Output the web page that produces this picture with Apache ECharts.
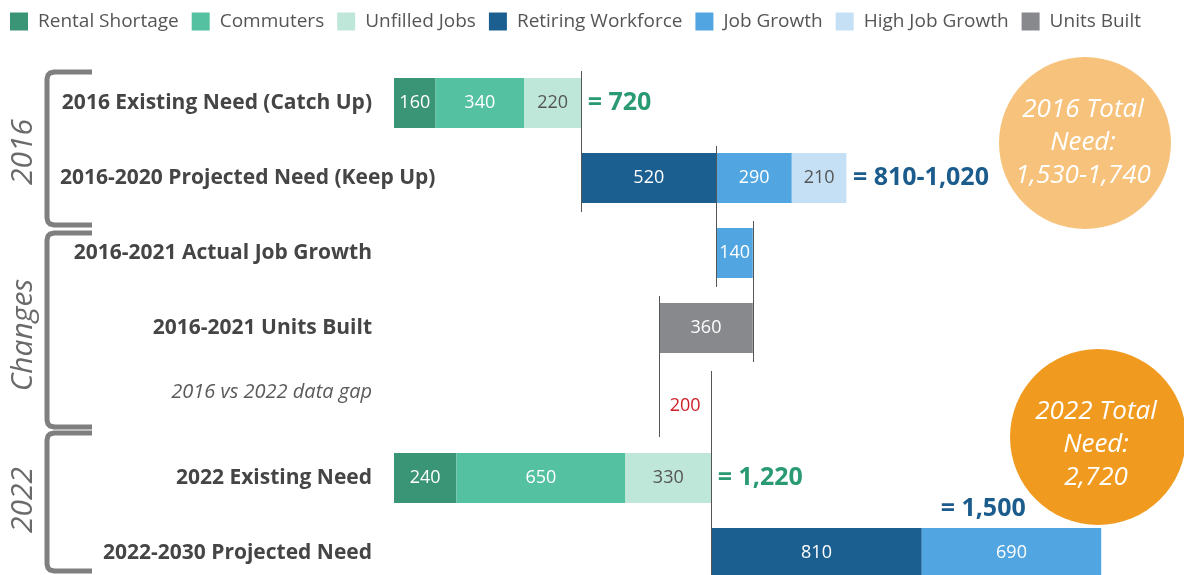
<!DOCTYPE html>
<html>
<head>
<meta charset="utf-8">
<script src="https://cdn.jsdelivr.net/npm/echarts@6/dist/echarts.min.js"></script>
<style>
  html, body { margin: 0; padding: 0; background: #ffffff; }
  #chart { width: 1184px; height: 575px; }
</style>
</head>
<body>
<div id="chart"></div>
<script>
// ---------------- DATA ----------------
const categories = [
  '2016 Existing Need (Catch Up)',
  '2016-2020 Projected Need (Keep Up)',
  '2016-2021 Actual Job Growth',
  '2016-2021 Units Built',
  '2016 vs 2022 data gap',
  '2022 Existing Need',
  '2022-2030 Projected Need'
];
const legendNames = ['Rental Shortage', 'Commuters', 'Unfilled Jobs', 'Retiring Workforce', 'Job Growth', 'High Job Growth', 'Units Built'];
const rentalShortage    = [160, null, null, null, null, 240, null];
const commuters         = [340, null, null, null, null, 650, null];
const unfilledJobs      = [220, null, null, null, null, 330, null];
const retiringWorkforce = [null, 520, null, null, null, null, 810];
const jobGrowth         = [null, 290, 140, null, null, null, 690];
const highJobGrowth     = [null, 210, null, null, null, null, null];
const unitsBuilt        = [null, null, null, 360, null, null, null];
const dataGap           = [null, null, null, null, 200, null, null];
// waterfall starting value of each row
const startValues       = [0, 720, 1240, 1020, 1020, 0, 1220];
const totalLabels       = ['= 720', '= 810-1,020', null, null, null, '= 1,220', '= 1,500'];
// connector lines: [value, fromRow, toRow]
const connectors = [[720, 0, 1], [1240, 1, 2], [1380, 2, 3], [1020, 3, 4], [1220, 4, 6]];
const circle2016 = '2016 Total\nNeed:\n1,530-1,740';
const circle2022 = '2022 Total\nNeed:\n2,720';
const groupLabels = ['2016', 'Changes', '2022'];

// ---------------- STYLES ----------------
const colors = {
  'Rental Shortage': '#3A9476',
  'Commuters': '#54C1A0',
  'Unfilled Jobs': '#BEE6D9',
  'Retiring Workforce': '#1B5F91',
  'Job Growth': '#51A5E1',
  'High Job Growth': '#C5E0F4',
  'Units Built': '#87898C'
};
const darkText = { 'Unfilled Jobs': true, 'High Job Growth': true };
const seriesData = [rentalShortage, commuters, unfilledJobs, retiringWorkforce, jobGrowth, highJobGrowth, unitsBuilt];

// row end values (for total labels)
const rowEnds = categories.map((c, i) => {
  let s = startValues[i];
  seriesData.forEach(arr => { if (arr[i] != null) s += arr[i]; });
  if (dataGap[i] != null) s += dataGap[i];
  return s;
});

const chart = echarts.init(document.getElementById('chart'));

const series = [];
series.push({
  name: 'start', type: 'bar', stack: 'w', barWidth: 50, silent: true,
  itemStyle: { color: 'transparent' }, label: { show: false },
  data: startValues
});
legendNames.forEach((n, k) => {
  series.push({
    name: n, type: 'bar', stack: 'w', barWidth: 50,
    itemStyle: { color: colors[n] },
    label: {
      show: true, position: 'inside', fontFamily: 'Open Sans', fontSize: 18,
      color: darkText[n] ? '#555555' : '#ffffff'
    },
    data: seriesData[k]
  });
});
series.push({
  name: 'gap', type: 'bar', stack: 'w', barWidth: 50, silent: true,
  itemStyle: { color: 'transparent' },
  label: { show: true, position: 'inside', offset: [0, 3], fontFamily: 'Open Sans', fontSize: 18, color: '#CC1F27' },
  data: dataGap
});
series.push({
  name: 'connectors', type: 'custom', silent: true, z: 5,
  renderItem: function (params, api) {
    const p1 = api.coord([api.value(0), api.value(1)]);
    const p2 = api.coord([api.value(0), api.value(2)]);
    return {
      type: 'line',
      shape: { x1: Math.round(p1[0]) + 0.5, y1: p1[1] - 32, x2: Math.round(p1[0]) + 0.5, y2: p2[1] + 34 },
      style: { stroke: '#555555', lineWidth: 1 }
    };
  },
  encode: { x: 0, y: 1 },
  data: connectors
});
const totalColors = ['#2A9A72', '#1B5C8C', null, null, null, '#2A9A72', '#1B5C8C'];
const totalData = [];
totalLabels.forEach((t, i) => {
  if (t == null) return;
  totalData.push({
    value: [rowEnds[i], i],
    label: i === 6 ? {
      show: true, position: 'top', distance: 31, offset: [-118, 0],
      formatter: t, color: totalColors[i]
    } : {
      show: true, position: 'right', distance: 6, formatter: t, color: totalColors[i]
    }
  });
});
series.push({
  name: 'totals', type: 'scatter', symbolSize: 1, silent: true, z: 6,
  itemStyle: { color: 'transparent', opacity: 1 },
  data: totalData,
  label: { fontFamily: 'Open Sans', fontWeight: 'bold', fontSize: 25, opacity: 1 }
});

function bracket(top, bottom) {
  return {
    type: 'polyline', silent: true,
    shape: { points: [[92, top], [54, top], [50, top + 1], [48, top + 3], [47, top + 7],
                      [47, bottom - 7], [48, bottom - 3], [50, bottom - 1], [54, bottom], [92, bottom]] },
    style: { fill: null, stroke: '#7F7F7F', lineWidth: 5 }
  };
}
function vtext(txt, x, y) {
  return {
    type: 'text', x: x, y: y, rotation: Math.PI / 2, silent: true,
    style: {
      text: txt, font: 'italic 30px "Open Sans"',
      fill: '#6A6A6A', align: 'center', verticalAlign: 'middle'
    }
  };
}
function circ(cx, cy, r, color, txt) {
  return [{
    type: 'circle', silent: true, shape: { cx: cx, cy: cy, r: r }, style: { fill: color }
  }, {
    type: 'text', x: cx - 2, y: cy + (r > 87 ? 8 : 0), silent: true,
    style: {
      text: txt, font: 'italic 26px "Open Sans"', lineHeight: 33,
      fill: '#ffffff', align: 'center', verticalAlign: 'middle'
    }
  }];
}

chart.setOption({
  animation: false,
  backgroundColor: '#ffffff',
  color: legendNames.map(n => colors[n]),
  legend: {
    data: legendNames, left: 5, top: 7, icon: 'rect', itemWidth: 18, itemHeight: 18, itemGap: 13,
    textStyle: { fontFamily: 'Open Sans', fontSize: 19, color: '#555555', padding: [0, 0, 0, 5] }
  },
  grid: { left: 394, top: 65.5, width: 780, height: 525, outerBoundsMode: 'none', containLabel: false },
  xAxis: { type: 'value', min: 0, max: 3000, show: false },
  yAxis: {
    type: 'category', data: categories, inverse: true,
    axisLine: { show: false }, axisTick: { show: false }, splitLine: { show: false },
    axisLabel: {
      margin: 22,
      formatter: function (v, i) {
        if (i === 4) return '{gap|' + v + '}';
        if (i === 1) return '{wide|' + v + '}';
        return '{b|' + v + '}';
      },
      rich: {
        b: { fontFamily: 'Open Sans', fontWeight: 'bold', fontSize: 21, color: '#454545' },
        wide: { fontFamily: 'Open Sans', fontWeight: 'bold', fontSize: 21, color: '#454545',
                width: 312, align: 'left', overflow: 'none' },
        gap: { fontFamily: 'Open Sans', fontStyle: 'italic', fontSize: 20, color: '#5A5A5A',
               padding: [0, 0, 22, 0] }
      }
    }
  },
  graphic: [
    bracket(72, 225), bracket(233, 427), bracket(433, 571),
    vtext(groupLabels[0], 23, 152), vtext(groupLabels[1], 23, 335), vtext(groupLabels[2], 23, 500),
    ...circ(1085, 143, 86, '#F7C37C', circle2016),
    ...circ(1098, 437, 88, '#F09B20', circle2022)
  ],
  series: series
});
</script>
</body>
</html>
